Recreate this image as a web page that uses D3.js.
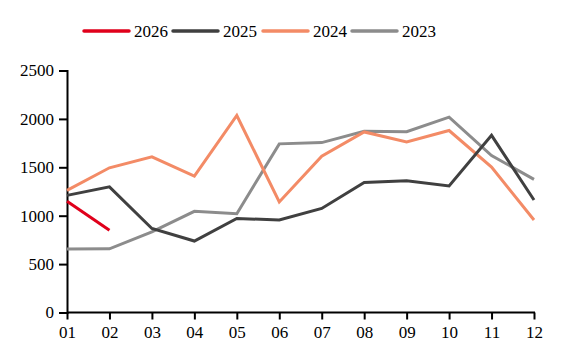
<!DOCTYPE html>
<html><head><meta charset="utf-8">
<script src="https://cdn.jsdelivr.net/npm/d3@7"></script>
<style>body{margin:0;background:#fff}svg{display:block}</style>
</head><body>
<svg id="c" width="563" height="364"></svg>
<script>
const months = ["01","02","03","04","05","06","07","08","09","10","11","12"];
const yTicks = [0,500,1000,1500,2000,2500];
const s2026 = [1150,850];
const s2025 = [1210,1298,868,738,972,955,1075,1343,1362,1308,1830,1162];
const s2024 = [1262,1495,1608,1408,2035,1142,1615,1865,1762,1880,1503,955];
const s2023 = [655,658,832,1045,1020,1742,1755,1872,1868,2018,1622,1375];
const seriesNames = ["2026","2025","2024","2023"];
const seriesColors = ["#e0001b","#404040","#f38b66","#8c8c8c"];

const series = [s2026,s2025,s2024,s2023].map((v,i)=>({name:seriesNames[i],color:seriesColors[i],values:v}));
const svg = d3.select("#c");
const font = "'Liberation Serif','Times New Roman',serif";
const x = d3.scalePoint().domain(months).range([67,534]);
const y = d3.scaleLinear().domain([0,2500]).range([312.5,70.5]);

const xAxis = svg.append("g").attr("transform","translate(0,312.5)")
  .call(d3.axisBottom(x).tickSizeOuter(0).tickSize(7).tickPadding(6));
const yAxis = svg.append("g").attr("transform","translate(67,0)")
  .call(d3.axisLeft(y).tickValues(yTicks).tickFormat(d3.format("d")).tickSizeOuter(0).tickSize(8).tickPadding(5));
[xAxis,yAxis].forEach(g=>{
  g.attr("font-family",font).attr("font-size",17);
  g.selectAll("path,line").attr("stroke","#000").attr("stroke-width",2);
  g.selectAll("text").attr("font-family",font).attr("font-size",17).attr("fill","#000");
});
xAxis.select(".domain").attr("d","M67,0H535");

const line = d3.line().x((d,i)=>x(months[i])).y(d=>y(d));
[...series].reverse().forEach(s=>{
  svg.append("path").datum(s.values).attr("d",line).attr("fill","none")
    .attr("stroke",s.color).attr("stroke-width",3).attr("stroke-linejoin","miter");
});

const lg = svg.append("g");
const lx = [84,173,263,352];
series.forEach((s,i)=>{
  lg.append("line").attr("x1",lx[i]).attr("x2",lx[i]+45).attr("y1",31).attr("y2",31)
    .attr("stroke",s.color).attr("stroke-width",3.5).attr("stroke-linecap","round");
  lg.append("text").attr("x",lx[i]+50).attr("y",37).text(s.name)
    .attr("font-family",font).attr("font-size",17).attr("fill","#000");
});
</script>
</body></html>
